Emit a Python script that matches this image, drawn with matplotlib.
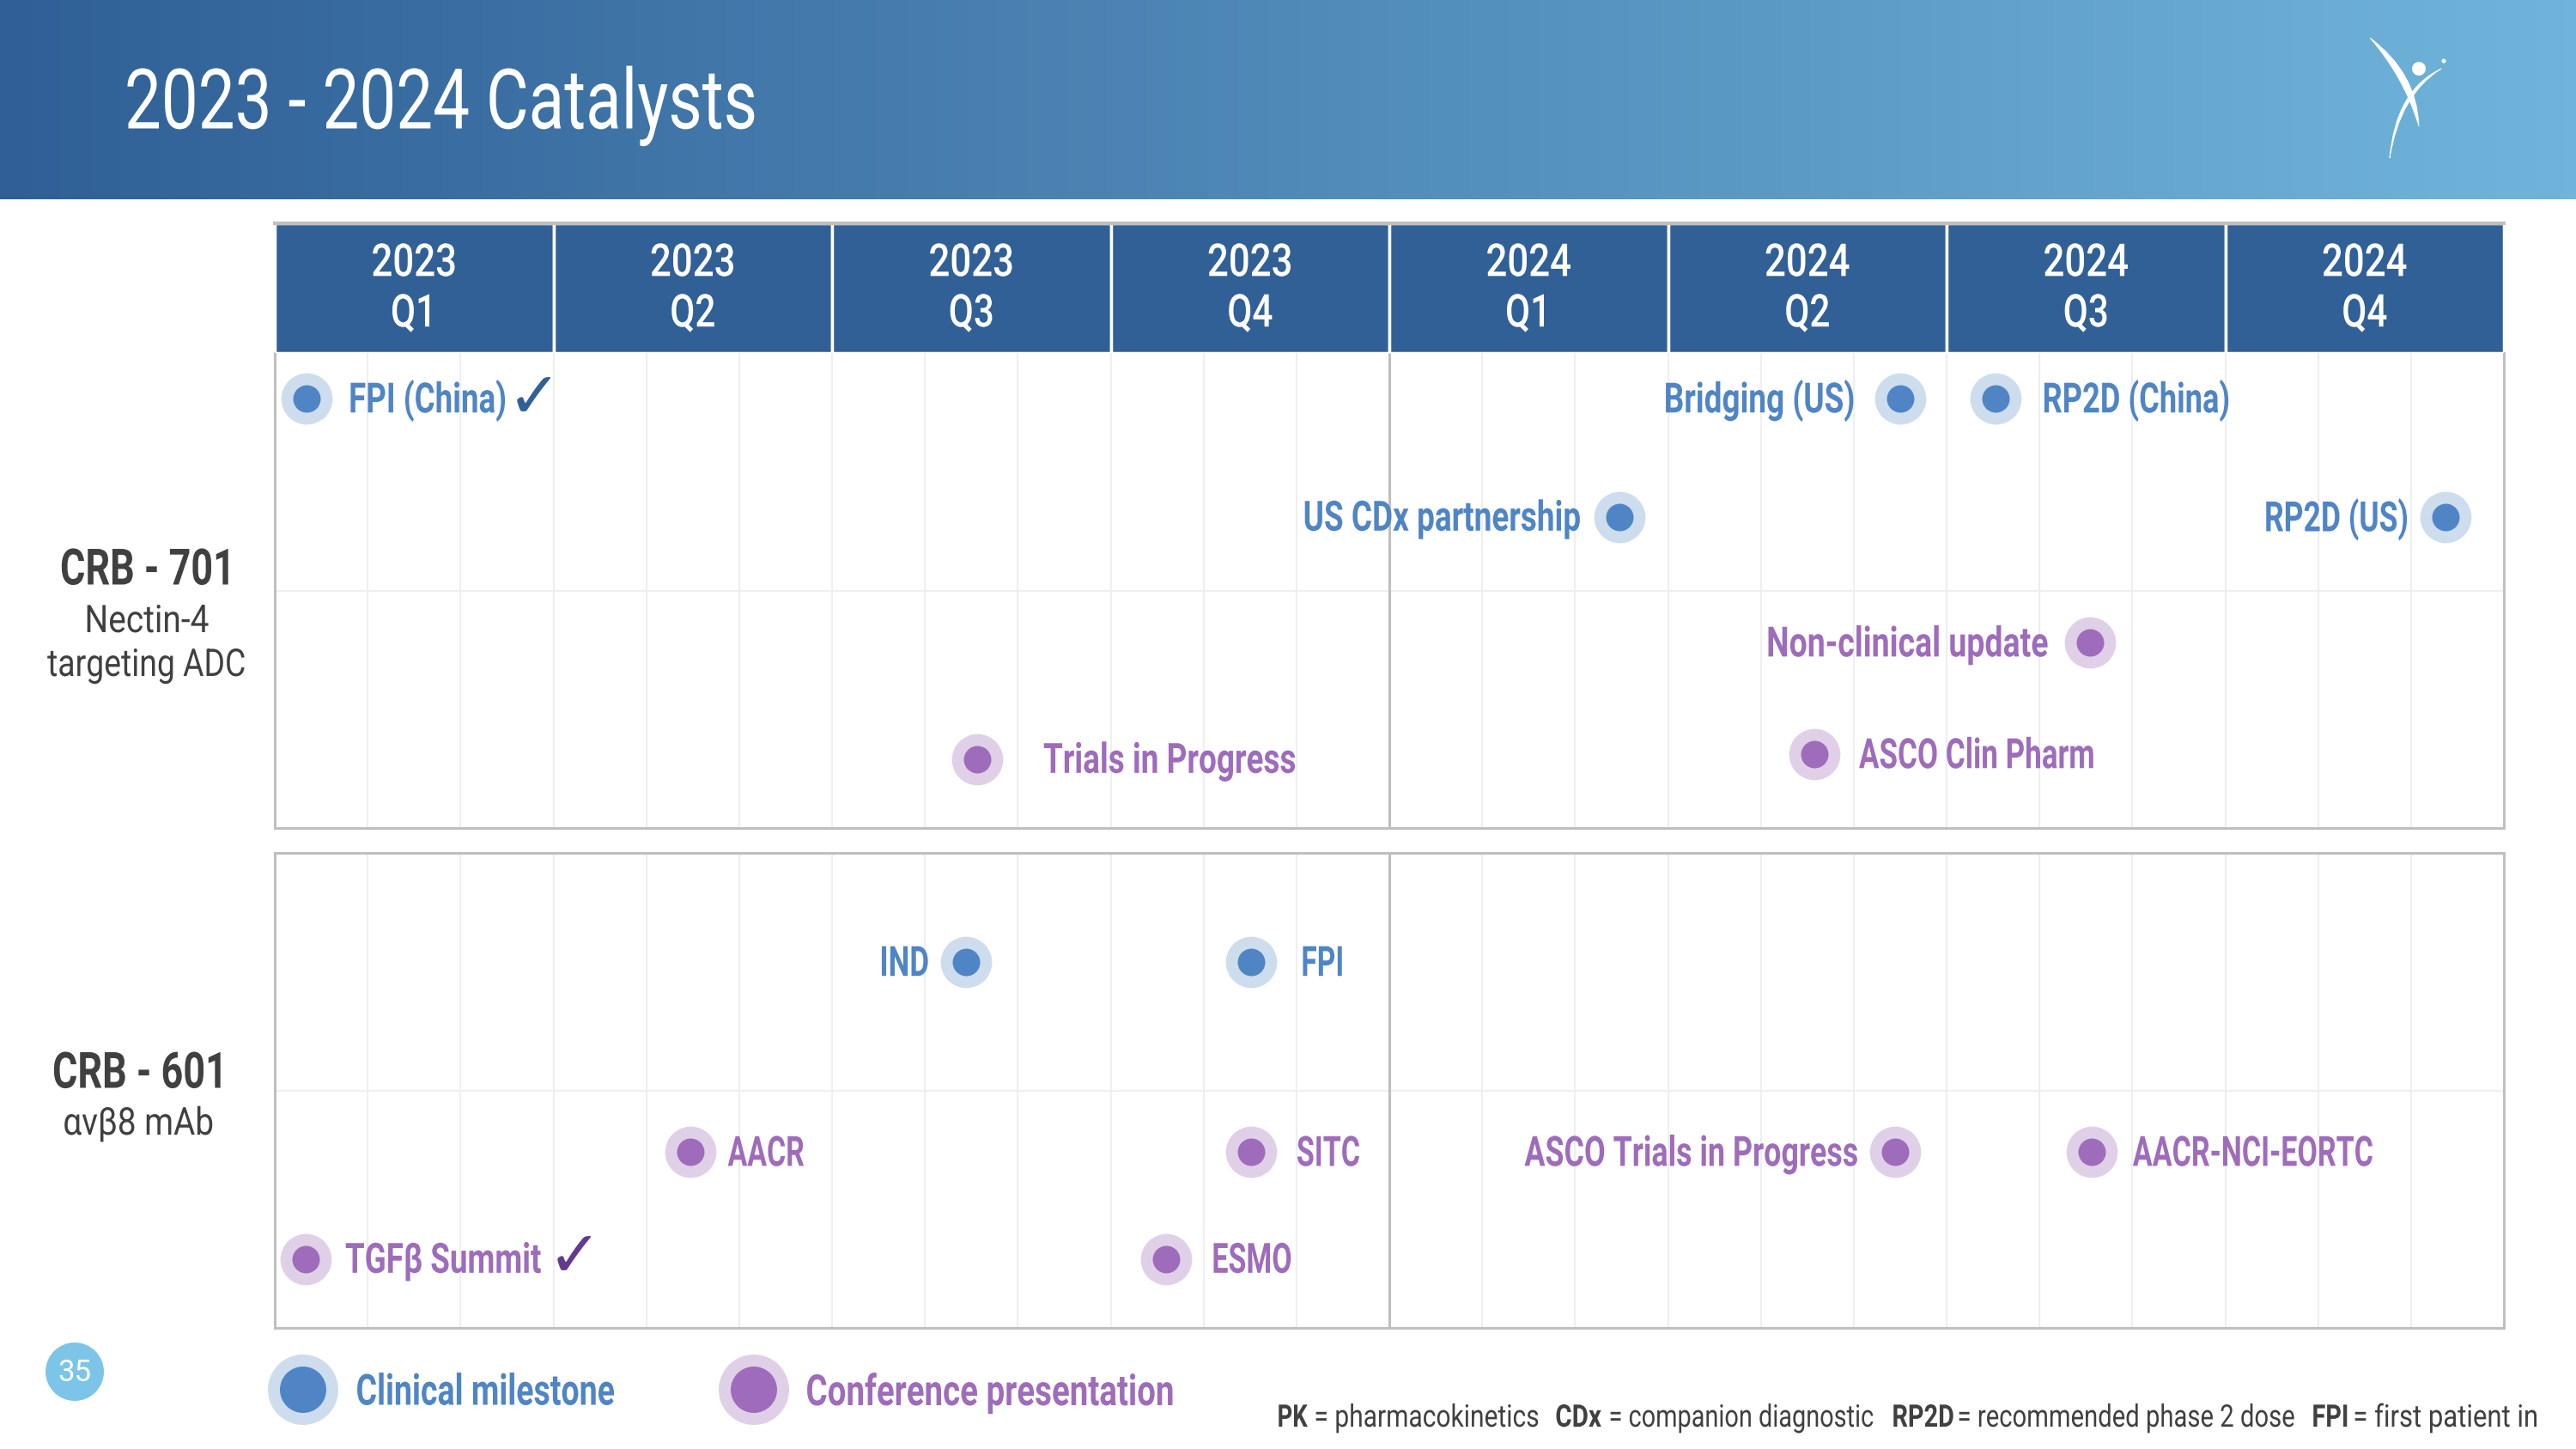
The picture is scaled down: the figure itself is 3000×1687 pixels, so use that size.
"""Recreate the 2023 - 2024 catalysts slide."""

import matplotlib
matplotlib.use("Agg")
import matplotlib.pyplot as plt
import numpy as np
from matplotlib.colors import LinearSegmentedColormap
from matplotlib.patches import Circle, PathPatch
from matplotlib.path import Path
from matplotlib.patheffects import AbstractPathEffect
from matplotlib.transforms import Affine2D, Bbox

W, H = 3000, 1687

YEARS = ["2023", "2023", "2023", "2023", "2024", "2024", "2024", "2024"]
QUARTERS = ["Q1", "Q2", "Q3", "Q4", "Q1", "Q2", "Q3", "Q4"]

# x in quarters since start of 2023, y in panel rows (0..2)
P1_LABELS = ["FPI (China)", "Bridging (US)", "RP2D (China)", "US CDx partnership",
             "RP2D (US)", "Non-clinical update", "Trials in Progress", "ASCO Clin Pharm"]
P1_X = [0.115, 5.835, 6.175, 4.825, 7.79, 6.515, 2.52, 5.525]
P1_Y = [1.81, 1.81, 1.81, 1.31, 1.31, 0.78, 0.29, 0.31]
P1_KIND = ["clinical"] * 5 + ["conference"] * 3

P2_LABELS = ["IND", "FPI", "AACR", "SITC", "ASCO Trials in Progress",
             "AACR-NCI-EORTC", "TGF\u03b2 Summit", "ESMO"]
P2_X = [2.48, 3.505, 1.49, 3.505, 5.815, 6.52, 0.11, 3.20]
P2_Y = [1.54, 1.54, 0.74, 0.74, 0.74, 0.74, 0.29, 0.29]
P2_KIND = ["clinical"] * 2 + ["conference"] * 6

# label offset from its marker, pixels (negative = label on the left)
P1_GAP = [48, -52, 54, -44, -42, -48, 77, 52]
P2_GAP = [-42, 57, 44, 52, -42, 48, 46, 52]
# horizontal squeeze per label, the original face has narrower capitals than Roboto
P1_SQUEEZE = [0.755, 0.76, 0.745, 0.76, 0.73, 0.77, 0.76, 0.72]
P2_SQUEEZE = [0.72, 0.69, 0.695, 0.70, 0.737, 0.70, 0.757, 0.70]

GRAD = ["#2F5F96", "#70B4DB"]
DARK = "#316097"
INK = "#404040"
COL = {"clinical": "#4F85C5", "conference": "#9E6CBB"}
HALO = {"clinical": "#CDDDED", "conference": "#DFD0E8"}

plt.rcParams["font.family"] = ["Roboto", "DejaVu Sans"]


class Squeeze(AbstractPathEffect):
    """No condensed font is installed, so narrow the glyphs horizontally."""

    def __init__(self, k, ha):
        super().__init__()
        self.k, self.ha = k, ha

    def draw_path(self, renderer, gc, tpath, affine, rgbFace=None):
        box = tpath.get_extents(affine)
        a = {"left": box.x0, "right": box.x1, "center": (box.x0 + box.x1) / 2}[self.ha]
        squeezed = affine + Affine2D().translate(-a, 0).scale(self.k, 1).translate(a, 0)
        renderer.draw_path(gc, tpath, squeezed, rgbFace)


def narrow(t, k):
    ha = t.get_ha()
    t.set_path_effects([Squeeze(k, ha)])
    full = t.get_window_extent

    def extent(renderer=None, dpi=None):
        b = full(renderer, dpi)
        a = {"left": b.x0, "right": b.x1, "center": (b.x0 + b.x1) / 2}[ha]
        return Bbox.from_extents(a + (b.x0 - a) * k, b.y0, a + (b.x1 - a) * k, b.y1)

    t.get_window_extent = extent
    return t


def axes_px(fig, left, top, right, bottom, **kw):
    return fig.add_axes([left / W, 1 - bottom / H, (right - left) / W, (bottom - top) / H], **kw)


def draw_panel(ax, labels, xs, ys, kinds, gaps, squeezes):
    ax.set_xlim(0, 8)
    ax.set_ylim(0, 2)
    ax.set_xticks([])
    ax.set_yticks([])
    for s in ax.spines.values():
        s.set_color("#BFBFBF")
        s.set_linewidth(2.2)
    ax.vlines(np.arange(1, 24) / 3, 0, 2, color="#EFEFEF", lw=1.5, zorder=1)
    ax.hlines(1, 0, 8, color="#EFEFEF", lw=1.5, zorder=1)
    ax.vlines(4, 0, 2, color="#BFBFBF", lw=2.2, zorder=1)
    for name, x, y, kind, gap, k in zip(labels, xs, ys, kinds, gaps, squeezes):
        ax.scatter(x, y, s=1850, color=HALO[kind], lw=0, zorder=3)
        ax.scatter(x, y, s=530, color=COL[kind], lw=0, zorder=4)
        narrow(ax.annotate(name, (x, y), xytext=(gap, -3), textcoords="offset pixels",
                           ha="left" if gap > 0 else "right", va="center", fontsize=35,
                           color=COL[kind], fontweight="bold", zorder=5), k)


fig = plt.figure(figsize=(W / 100, H / 100), dpi=100, facecolor="white")

bg = axes_px(fig, 0, 0, W, H, zorder=0)
bg.set_xlim(0, W)
bg.set_ylim(H, 0)
bg.axis("off")

# title band
cmap = LinearSegmentedColormap.from_list("band", GRAD)
bg.imshow(np.linspace(0, 1, 512)[None, :], cmap=cmap, extent=(0, W, 232, 0), aspect="auto")
bg.set_xlim(0, W)
bg.set_ylim(H, 0)
narrow(bg.text(144, 124, "2023 - 2024 Catalysts", color="white", fontsize=70, va="center", ha="left"), 0.785)

# logo
for p0, c0, p1, c1 in [((2760, 44), (2815, 85), (2817, 147), (2800, 90)),
                       ((2843, 80), (2790, 105), (2783, 184), (2795, 110))]:
    verts = [p0, c0, p1, c1, p0, p0]
    codes = [Path.MOVETO, Path.CURVE3, Path.CURVE3, Path.CURVE3, Path.CURVE3, Path.CLOSEPOLY]
    bg.add_patch(PathPatch(Path(verts, codes), fc="white", ec="white", lw=0.6))
bg.add_patch(Circle((2817, 80), 8, fc="white", ec="none"))
bg.add_patch(Circle((2846, 71), 2.5, fc="white", ec="none"))

# row headings
narrow(bg.text(173, 665, "CRB - 701", color=INK, fontsize=42, fontweight="bold", ha="center", va="center"), 0.77)
narrow(bg.text(171, 724, "Nectin-4", color=INK, fontsize=32, ha="center", va="center"), 0.875)
narrow(bg.text(171, 775, "targeting ADC", color=INK, fontsize=32, ha="center", va="center"), 0.84)
narrow(bg.text(164, 1251, "CRB - 601", color=INK, fontsize=42, fontweight="bold", ha="center", va="center"), 0.77)
narrow(bg.text(161, 1309, "\u03b1v\u03b28 mAb", color=INK, fontsize=32, ha="center", va="center"), 0.87)

# page number
bg.add_patch(Circle((87, 1597), 34, fc="#7CC5E8", ec="none"))
bg.text(87, 1598, "35", color="white", fontsize=25, ha="center", va="center")

# legend
for x, kind, name, tx, k in [(353, "clinical", "Clinical milestone", 414, 0.75),
                             (878, "conference", "Conference presentation", 938, 0.77)]:
    bg.add_patch(Circle((x, 1618), 41, fc=HALO[kind], ec="none"))
    bg.add_patch(Circle((x, 1618), 27, fc=COL[kind], ec="none"))
    narrow(bg.text(tx, 1622, name, color=COL[kind], fontsize=36, fontweight="bold", va="center"), k)

# footnote
for x, txt, wt, k in [(1487, "PK", "bold", 0.76), (1530, "= pharmacokinetics", "normal", 0.83),
                      (1811, "CDx", "bold", 0.82), (1873, "= companion diagnostic", "normal", 0.80),
                      (2203, "RP2D", "bold", 0.80), (2279, "= recommended phase 2 dose", "normal", 0.81),
                      (2692, "FPI", "bold", 0.80), (2740, "= first patient in", "normal", 0.86)]:
    narrow(bg.text(x, 1651, txt, color=INK, fontsize=26, fontweight=wt, va="center"), k)

# quarter header
head = axes_px(fig, 320, 260, 2916, 411, zorder=2)
head.set_xlim(0, 8)
head.set_ylim(0, 1)
head.axis("off")
head.bar(np.arange(8), 1, width=1, align="edge", color=DARK, edgecolor="white", linewidth=2.5)
head.plot([0, 8], [1, 1], color="#BFBFBF", lw=3, clip_on=False)
for i, (yr, qt) in enumerate(zip(YEARS, QUARTERS)):
    narrow(head.text(i + 0.5, 0.69, yr, color="white", fontsize=38, ha="center", va="center", fontweight="medium"), 0.83)
    narrow(head.text(i + 0.5, 0.30, qt, color="white", fontsize=38, ha="center", va="center", fontweight="medium"), 0.80)

p1 = axes_px(fig, 320, 411, 2916, 964, zorder=1)
draw_panel(p1, P1_LABELS, P1_X, P1_Y, P1_KIND, P1_GAP, P1_SQUEEZE)
p1.spines["top"].set_visible(False)
p2 = axes_px(fig, 320, 993, 2916, 1546, zorder=1)
draw_panel(p2, P2_LABELS, P2_X, P2_Y, P2_KIND, P2_GAP, P2_SQUEEZE)

# done-marks next to the finished milestones
bg.set_zorder(3)
bg.text(622, 465, "\u2713", color=DARK, fontsize=54, family="DejaVu Sans",
        ha="center", va="center")
bg.text(669, 1465, "\u2713", color="#633A8C", fontsize=54, family="DejaVu Sans",
        ha="center", va="center")

fig.savefig("out.png", dpi=100)
